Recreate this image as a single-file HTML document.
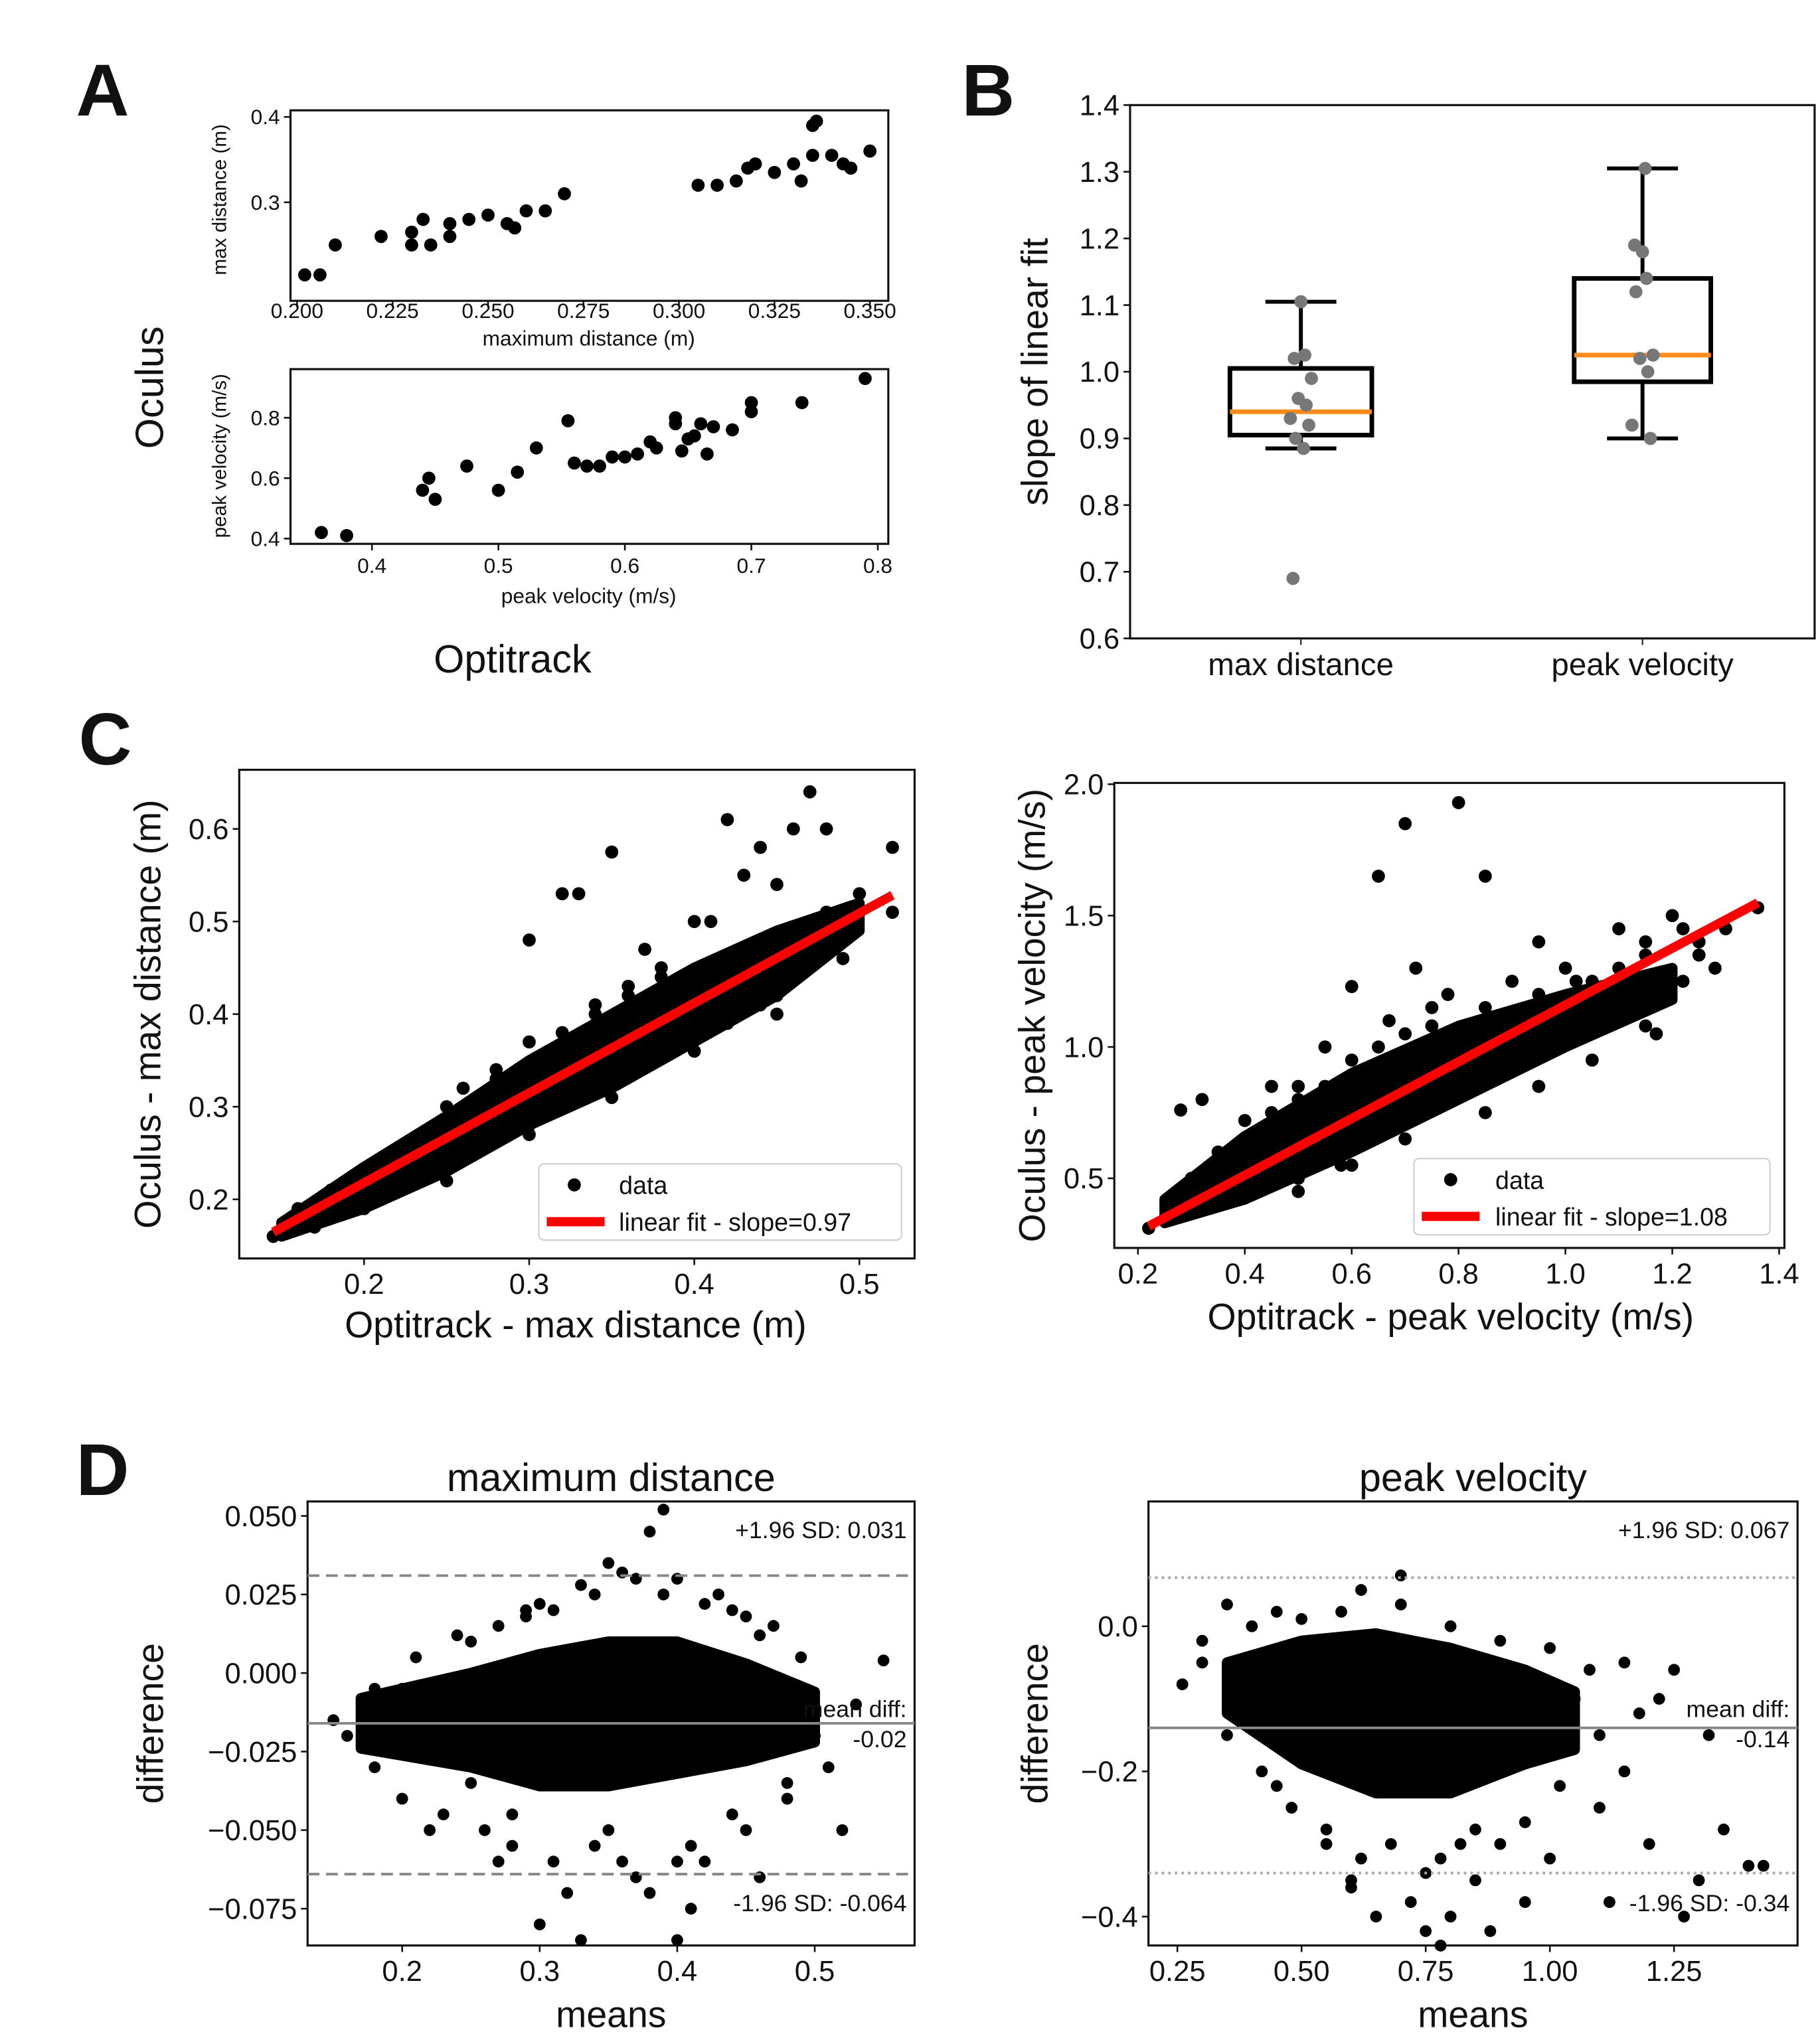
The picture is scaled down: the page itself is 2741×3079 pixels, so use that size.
<!DOCTYPE html>
<html><head><meta charset="utf-8"><style>
html,body{margin:0;padding:0;background:#fff}
svg{display:block}
text{font-family:"Liberation Sans","DejaVu Sans",sans-serif;fill:#111}
</style></head><body>
<svg id="fig" xmlns="http://www.w3.org/2000/svg" width="2741" height="3079" viewBox="0 0 1385 1556">
<rect width="1385" height="1556" fill="#fff"/>
</svg>
<script>
// ---- Panel A data ----
const aTopX=[0.202,0.206,0.21,0.222,0.23,0.23,0.233,0.235,0.24,0.24,0.245,0.25,0.255,0.257,0.26,0.265,0.27,0.305,0.31,0.315,0.318,0.32,0.325,0.33,0.332,0.335,0.335,0.336,0.34,0.343,0.35,0.345];
const aTopY=[0.215,0.215,0.25,0.26,0.265,0.25,0.28,0.25,0.275,0.26,0.28,0.285,0.275,0.27,0.29,0.29,0.31,0.32,0.32,0.325,0.34,0.345,0.335,0.345,0.325,0.355,0.39,0.395,0.355,0.345,0.36,0.34];
const aBotX=[0.36,0.38,0.44,0.445,0.45,0.475,0.5,0.515,0.53,0.555,0.56,0.57,0.58,0.59,0.6,0.61,0.625,0.64,0.64,0.645,0.65,0.655,0.66,0.665,0.685,0.7,0.7,0.74,0.79,0.62,0.67];
const aBotY=[0.42,0.41,0.56,0.6,0.53,0.64,0.56,0.62,0.7,0.79,0.65,0.64,0.64,0.67,0.67,0.68,0.7,0.8,0.78,0.69,0.73,0.74,0.78,0.68,0.76,0.85,0.82,0.85,0.93,0.72,0.77];
// ---- Panel B data ----
const bCats=["max distance","peak velocity"];
const bQ1=[0.905,0.985], bQ3=[1.005,1.14], bMed=[0.94,1.025], bLo=[0.885,0.9], bHi=[1.105,1.305];
const bPts1=[0.69,0.885,0.9,0.92,0.93,0.95,0.96,0.99,1.02,1.025,1.105];
const bPts2=[0.9,0.92,1.0,1.02,1.025,1.12,1.14,1.18,1.19,1.305];
const bTicks=[0.6,0.7,0.8,0.9,1.0,1.1,1.2,1.3,1.4];
// ---- Panel C left data ----
const c1EnvX=[0.15,0.2,0.25,0.3,0.35,0.4,0.45,0.5];
const c1EnvHi=[0.175,0.235,0.29,0.35,0.4,0.45,0.49,0.52];
const c1EnvLo=[0.16,0.19,0.23,0.28,0.32,0.37,0.42,0.49];
const c1X=[0.145,0.16,0.17,0.18,0.19,0.25,0.26,0.28,0.3,0.32,0.33,0.34,0.36,0.38,0.4,0.41,0.42,0.43,0.44,0.45,0.46,0.47,0.48,0.5,0.52,0.52,0.35,0.37,0.4,0.43,0.3,0.25,0.2,0.39,0.45,0.47,
 0.16,0.18,0.22,0.24,0.26,0.28,0.3,0.32,0.34,0.36,0.38,0.4,0.42,0.44,0.46,0.48,0.49,0.3,0.35,0.25,0.45,0.2];
const c1Y=[0.16,0.18,0.17,0.21,0.22,0.3,0.3,0.33,0.48,0.53,0.53,0.4,0.43,0.45,0.5,0.5,0.61,0.55,0.58,0.54,0.6,0.64,0.6,0.53,0.58,0.51,0.575,0.47,0.42,0.46,0.28,0.26,0.19,0.37,0.42,0.47,
 0.19,0.2,0.25,0.27,0.32,0.34,0.37,0.38,0.41,0.42,0.44,0.36,0.39,0.41,0.49,0.51,0.46,0.27,0.31,0.22,0.4,0.2];
const c1Slope=0.97, c1Int=0.024;
const c1XT=[0.2,0.3,0.4,0.5], c1YT=[0.2,0.3,0.4,0.5,0.6];
// ---- Panel C right data ----
const c2EnvX=[0.25,0.4,0.6,0.8,1.0,1.2];
const c2EnvHi=[0.42,0.66,0.9,1.08,1.2,1.3];
const c2EnvLo=[0.33,0.42,0.6,0.8,1.0,1.18];
const c2X=[0.22,0.28,0.32,0.4,0.45,0.5,0.55,0.6,0.65,0.7,0.72,0.75,0.8,0.85,0.9,0.95,1.0,1.05,1.1,1.15,1.2,1.22,1.25,1.3,1.36,0.67,0.78,0.82,0.92,1.02,1.17,0.5,0.58,
 0.3,0.35,0.4,0.45,0.5,0.55,0.6,0.65,0.7,0.75,0.85,0.9,0.95,1.05,1.1,1.15,1.25,1.28,1.22,0.5,0.6,0.7,0.85,0.95,1.05,1.15];
const c2Y=[0.31,0.76,0.8,0.6,0.85,0.85,1.0,1.23,1.65,1.85,1.3,1.15,1.93,1.65,1.25,1.4,1.3,1.1,1.45,1.4,1.5,1.45,1.35,1.45,1.53,1.1,1.2,1.0,0.95,1.25,1.05,0.45,0.55,
 0.5,0.6,0.72,0.75,0.8,0.85,0.95,1.0,1.05,1.08,1.15,1.1,1.2,1.25,1.3,1.35,1.4,1.3,1.25,0.5,0.55,0.65,0.75,0.85,0.95,1.08];
const c2Slope=1.08, c2Int=0.08;
const c2XT=[0.2,0.4,0.6,0.8,1.0,1.2,1.4], c2YT=[0.5,1.0,1.5,2.0];
// ---- Panel D left data ----
const d1EnvX=[0.17,0.25,0.3,0.35,0.4,0.45,0.5];
const d1EnvHi=[-0.008,0.0,0.006,0.01,0.01,0.003,-0.006];
const d1EnvLo=[-0.024,-0.03,-0.036,-0.036,-0.032,-0.028,-0.022];
const d1X=[0.15,0.18,0.2,0.22,0.25,0.27,0.3,0.32,0.33,0.35,0.37,0.38,0.39,0.4,0.4,0.41,0.43,0.44,0.45,0.47,0.48,0.5,0.52,0.55,0.36,0.31,0.28,0.42,0.46,0.34,0.38,0.29,
 0.16,0.18,0.2,0.21,0.23,0.24,0.26,0.27,0.28,0.29,0.31,0.33,0.34,0.36,0.37,0.39,0.41,0.42,0.44,0.46,0.48,0.49,0.51,0.53,0.3,0.35,0.4,0.45,0.25,0.22];
const d1Y=[-0.015,-0.03,-0.005,-0.05,0.01,-0.06,-0.08,-0.07,-0.085,0.035,0.03,0.045,0.052,0.03,-0.085,-0.075,0.025,0.02,-0.05,0.015,-0.04,-0.02,-0.05,0.004,-0.06,0.02,-0.045,-0.06,-0.065,0.025,-0.07,0.018,
 -0.02,-0.005,-0.04,0.005,-0.045,0.012,-0.05,0.015,-0.055,0.02,-0.06,0.028,-0.055,0.032,-0.065,0.025,-0.055,0.022,-0.045,0.012,-0.035,0.005,-0.03,-0.01,0.022,-0.05,-0.06,0.018,-0.035,-0.01];
const d1Mean=-0.016, d1Hi=0.031, d1Lo=-0.064;
const d1XT=[0.2,0.3,0.4,0.5], d1YT=[0.05,0.025,0.0,-0.025,-0.05,-0.075], d1YL=["0.050","0.025","0.000","\u22120.025","\u22120.050","\u22120.075"];
// ---- Panel D right data ----
const d2EnvX=[0.35,0.5,0.65,0.8,0.95,1.05];
const d2EnvHi=[-0.05,-0.02,-0.01,-0.03,-0.06,-0.09];
const d2EnvLo=[-0.12,-0.19,-0.23,-0.23,-0.19,-0.17];
const d2X=[0.26,0.3,0.35,0.45,0.55,0.6,0.65,0.7,0.72,0.75,0.78,0.8,0.85,0.9,0.95,1.0,1.05,1.1,1.15,1.2,1.22,1.25,1.3,1.32,1.35,1.4,1.43,0.62,0.82,0.88,1.12,1.27,
 0.3,0.35,0.4,0.42,0.48,0.5,0.55,0.58,0.62,0.68,0.7,0.78,0.8,0.85,0.9,0.95,1.0,1.02,1.08,1.1,1.15,1.18,0.45,0.6,0.75];
const d2Y=[-0.08,-0.02,0.03,0.02,-0.3,-0.35,-0.4,0.07,-0.38,-0.42,-0.44,-0.4,-0.35,-0.3,-0.38,-0.32,-0.1,-0.25,-0.05,-0.3,-0.1,-0.06,-0.35,-0.15,-0.28,-0.33,-0.33,0.05,-0.3,-0.42,-0.38,-0.4,
 -0.05,-0.15,0.0,-0.2,-0.25,0.01,-0.28,0.02,-0.32,-0.3,0.03,-0.32,0.0,-0.28,-0.02,-0.27,-0.03,-0.22,-0.06,-0.15,-0.2,-0.12,-0.22,-0.36,-0.34];
const d2Mean=-0.14, d2Hi=0.067, d2Lo=-0.34;
const d2XT=[0.25,0.5,0.75,1.0,1.25], d2XL=["0.25","0.50","0.75","1.00","1.25"], d2YT=[0.0,-0.2,-0.4], d2YL=["0.0","\u22120.2","\u22120.4"];

const svg=document.getElementById('fig');
const NS='http://www.w3.org/2000/svg';
function mk(tag,attrs,name,parent){
  const e=document.createElementNS(NS,tag);
  for(const k in attrs)e.setAttribute(k,attrs[k]);
  
  
  (parent||svg).appendChild(e);return e;
}
function txt(x,y,s,size,name,opt){
  opt=opt||{};
  const a={x:x,y:y,'font-size':size,'text-anchor':opt.anchor||'middle'};
  if(opt.weight)a['font-weight']=opt.weight;
  if(opt.rot)a.transform='rotate(-90 '+x+' '+y+')';
  const t=mk('text',a,name);t.textContent=s;return t;
}
function lin(d0,d1,p0,p1){return v=>p0+(v-d0)/(d1-d0)*(p1-p0);}
function frame(x0,y0,x1,y1,name){mk('rect',{x:x0,y:y0,width:x1-x0,height:y1-y0,fill:'none',stroke:'#111','stroke-width':1.6},name);}
function xticks(ticks,labels,sx,yb,size,name,off){
  const o=(off===undefined)?(6+size*0.9):off;
  ticks.forEach((t,i)=>{mk('line',{x1:sx(t),x2:sx(t),y1:yb,y2:yb+5,stroke:'#111','stroke-width':1.3},name+'-tick');
    txt(sx(t),yb+o,labels[i],size,name+'-label');});
}
function yticks(ticks,labels,sy,xl,size,name){
  ticks.forEach((t,i)=>{mk('line',{x1:xl-5,x2:xl,y1:sy(t),y2:sy(t),stroke:'#111','stroke-width':1.3},name+'-tick');
    txt(xl-8,sy(t)+size*0.35,labels[i],size,name+'-label',{anchor:'end'});});
}
function dots(xs,ys,sx,sy,r,fill,name){xs.forEach((x,i)=>mk('circle',{cx:sx(x),cy:sy(ys[i]),r:r,fill:fill},name));}
function env(ex,hi,lo,sx,sy,name){
  let p=ex.map((x,i)=>sx(x)+','+sy(hi[i]));
  for(let i=ex.length-1;i>=0;i--)p.push(sx(ex[i])+','+sy(lo[i]));
  mk('polygon',{points:p.join(' '),fill:'#000',stroke:'#000','stroke-width':8,'stroke-linejoin':'round'},name);
}
const fmt=(v,d)=>v.toFixed(d);

// Letters
txt(78,88,'A',56,'panel-label-a',{weight:'bold'});
txt(752,88,'B',56,'panel-label-b',{weight:'bold'});
txt(80,582,'C',56,'panel-label-c',{weight:'bold'});
txt(78,1138,'D',56,'panel-label-d',{weight:'bold'});

// Panel A top
{const sx=lin(0.2,0.35,226,662), sy=lin(0.3,0.4,154,89);
 frame(221,84,676,229,'a-top-frame');
 xticks([0.2,0.225,0.25,0.275,0.3,0.325,0.35],["0.200","0.225","0.250","0.275","0.300","0.325","0.350"],sx,229,16,'a-top-x',13);
 yticks([0.3,0.4],["0.3","0.4"],sy,221,16,'a-top-y');
 dots(aTopX,aTopY,sx,sy,5,'#000','a-top-point');
 txt(448,263,'maximum distance (m)',16,'a-top-x-title');
 txt(172,152,'max distance (m)',15,'a-top-y-title',{rot:true});}
// Panel A bottom
{const sx=lin(0.4,0.8,283,668), sy=lin(0.4,0.8,410,318);
 frame(221,281,676,414,'a-bot-frame');
 xticks([0.4,0.5,0.6,0.7,0.8],["0.4","0.5","0.6","0.7","0.8"],sx,414,16,'a-bot-x',22);
 yticks([0.4,0.6,0.8],["0.4","0.6","0.8"],sy,221,16,'a-bot-y');
 dots(aBotX,aBotY,sx,sy,5,'#000','a-bot-point');
 txt(448,459,'peak velocity (m/s)',16,'a-bot-x-title');
 txt(172,347,'peak velocity (m/s)',15,'a-bot-y-title',{rot:true});}
txt(124,295,'Oculus',30,'a-y-title',{rot:true});
txt(390,512,'Optitrack',30,'a-x-title');

// Panel B
{const sy=lin(0.6,1.4,486,80), cx=[990,1250], hw=[54,52];
 frame(860,80,1381,486,'b-frame');
 yticks(bTicks,bTicks.map(v=>fmt(v,1)),sy,860,22,'b-y');
 bCats.forEach((c,i)=>{mk('line',{x1:cx[i],x2:cx[i],y1:486,y2:491,stroke:'#111'},'b-x-tick');
   txt(cx[i],514,c,24,'b-x-label');
   mk('line',{x1:cx[i],x2:cx[i],y1:sy(bLo[i]),y2:sy(bQ1[i]),stroke:'#000','stroke-width':3},'b-whisker-low');
   mk('line',{x1:cx[i],x2:cx[i],y1:sy(bHi[i]),y2:sy(bQ3[i]),stroke:'#000','stroke-width':3},'b-whisker-high');
   mk('line',{x1:cx[i]-27,x2:cx[i]+27,y1:sy(bLo[i]),y2:sy(bLo[i]),stroke:'#000','stroke-width':3},'b-cap-low');
   mk('line',{x1:cx[i]-27,x2:cx[i]+27,y1:sy(bHi[i]),y2:sy(bHi[i]),stroke:'#000','stroke-width':3},'b-cap-high');
   mk('rect',{x:cx[i]-hw[i],y:sy(bQ3[i]),width:2*hw[i],height:sy(bQ1[i])-sy(bQ3[i]),fill:'none',stroke:'#000','stroke-width':3.5},'b-box');
   mk('line',{x1:cx[i]-hw[i],x2:cx[i]+hw[i],y1:sy(bMed[i]),y2:sy(bMed[i]),stroke:'#ff8c1a','stroke-width':3.5},'b-median');
 });
 const j=[-6,2,-4,6,-8,4,-2,8,-5,3,0];
 bPts1.forEach((v,i)=>mk('circle',{cx:990+j[i%j.length],cy:sy(v),r:5,fill:'#777'},'b-point-maxdist'));
 bPts2.forEach((v,i)=>mk('circle',{cx:1250+j[(i+3)%j.length],cy:sy(v),r:5,fill:'#777'},'b-point-peakvel'));
 txt(797,283,'slope of linear fit',28,'b-y-title',{rot:true});}

// Panel C left
{const sx=lin(0.2,0.5,277,654), sy=lin(0.2,0.6,913,631);
 frame(182,586,696,958,'c1-frame');
 env(c1EnvX,c1EnvHi,c1EnvLo,sx,sy,'c1-data-cloud');
 dots(c1X,c1Y,sx,sy,5,'#000','c1-point');
 mk('line',{x1:sx(0.145),y1:sy(c1Int+c1Slope*0.145),x2:sx(0.52),y2:sy(c1Int+c1Slope*0.52),stroke:'#f00','stroke-width':7},'c1-fit-line');
 xticks(c1XT,c1XT.map(v=>fmt(v,1)),sx,958,22,'c1-x',27);
 yticks(c1YT,c1YT.map(v=>fmt(v,1)),sy,182,22,'c1-y');
 mk('rect',{x:410,y:886,width:276,height:58,rx:4,fill:'#fff',stroke:'#ccc'},'c1-legend');
 mk('circle',{cx:437,cy:902,r:5,fill:'#000'},'c1-legend-data-marker');
 txt(471,909,'data',19,'c1-legend-data',{anchor:'start'});
 mk('line',{x1:416,x2:460,y1:930,y2:930,stroke:'#f00','stroke-width':7},'c1-legend-fit-marker');
 txt(471,937,'linear fit - slope=0.97',19,'c1-legend-fit',{anchor:'start'});
 txt(438,1018,'Optitrack - max distance (m)',28,'c1-x-title');
 txt(122,772,'Oculus - max distance (m)',28,'c1-y-title',{rot:true});}

// Panel C right
{const sx=lin(0.2,1.4,866,1354), sy=lin(0.5,2.0,897,597);
 frame(848,596,1358,950,'c2-frame');
 env(c2EnvX,c2EnvHi,c2EnvLo,sx,sy,'c2-data-cloud');
 dots(c2X,c2Y,sx,sy,5,'#000','c2-point');
 mk('line',{x1:sx(0.22),y1:sy(c2Int+c2Slope*0.22),x2:sx(1.36),y2:sy(c2Int+c2Slope*1.36),stroke:'#f00','stroke-width':7},'c2-fit-line');
 xticks(c2XT,c2XT.map(v=>fmt(v,1)),sx,950,22,'c2-x',27);
 yticks(c2YT,c2YT.map(v=>fmt(v,1)),sy,848,22,'c2-y');
 mk('rect',{x:1076,y:882,width:271,height:58,rx:4,fill:'#fff',stroke:'#ccc'},'c2-legend');
 mk('circle',{cx:1104,cy:898,r:5,fill:'#000'},'c2-legend-data-marker');
 txt(1138,905,'data',19,'c2-legend-data',{anchor:'start'});
 mk('line',{x1:1082,x2:1126,y1:926,y2:926,stroke:'#f00','stroke-width':7},'c2-legend-fit-marker');
 txt(1138,933,'linear fit - slope=1.08',19,'c2-legend-fit',{anchor:'start'});
 txt(1104,1012,'Optitrack - peak velocity (m/s)',28,'c2-x-title');
 txt(795,773,'Oculus - peak velocity (m/s)',28,'c2-y-title',{rot:true});}

// Panel D left
{const sx=lin(0.2,0.5,306,620), sy=lin(0.05,-0.075,1154,1453);
 frame(234,1143,696,1481,'d1-frame');
 env(d1EnvX,d1EnvHi,d1EnvLo,sx,sy,'d1-data-cloud');
 dots(d1X,d1Y,sx,sy,4.5,'#000','d1-point');
 mk('line',{x1:234,x2:696,y1:sy(d1Mean),y2:sy(d1Mean),stroke:'#888','stroke-width':2},'d1-mean-line');
 mk('line',{x1:234,x2:696,y1:sy(d1Hi),y2:sy(d1Hi),stroke:'#888','stroke-width':2,'stroke-dasharray':'9,5'},'d1-upper-loa');
 mk('line',{x1:234,x2:696,y1:sy(d1Lo),y2:sy(d1Lo),stroke:'#888','stroke-width':2,'stroke-dasharray':'9,5'},'d1-lower-loa');
 txt(690,1171,'+1.96 SD: 0.031',18,'d1-upper-label',{anchor:'end'});
 txt(690,1307,'mean diff:',18,'d1-mean-label',{anchor:'end'});
 txt(690,1330,'-0.02',18,'d1-mean-value',{anchor:'end'});
 txt(690,1455,'-1.96 SD: -0.064',18,'d1-lower-label',{anchor:'end'});
 xticks(d1XT,d1XT.map(v=>fmt(v,1)),sx,1481,22,'d1-x',27);
 yticks(d1YT,d1YL,sy,234,22,'d1-y');
 txt(465,1135,'maximum distance',30,'d1-title');
 txt(465,1543,'means',28,'d1-x-title');
 txt(124,1312,'difference',28,'d1-y-title',{rot:true});}

// Panel D right
{const sx=lin(0.25,1.25,896,1274), sy=lin(0.0,-0.4,1238,1459);
 frame(874,1143,1368,1481,'d2-frame');
 env(d2EnvX,d2EnvHi,d2EnvLo,sx,sy,'d2-data-cloud');
 dots(d2X,d2Y,sx,sy,4.5,'#000','d2-point');
 mk('line',{x1:874,x2:1368,y1:sy(d2Mean),y2:sy(d2Mean),stroke:'#888','stroke-width':2},'d2-mean-line');
 mk('line',{x1:874,x2:1368,y1:sy(d2Hi),y2:sy(d2Hi),stroke:'#aaa','stroke-width':2,'stroke-dasharray':'2,3'},'d2-upper-loa');
 mk('line',{x1:874,x2:1368,y1:sy(d2Lo),y2:sy(d2Lo),stroke:'#aaa','stroke-width':2,'stroke-dasharray':'2,3'},'d2-lower-loa');
 txt(1362,1171,'+1.96 SD: 0.067',18,'d2-upper-label',{anchor:'end'});
 txt(1362,1307,'mean diff:',18,'d2-mean-label',{anchor:'end'});
 txt(1362,1330,'-0.14',18,'d2-mean-value',{anchor:'end'});
 txt(1362,1455,'-1.96 SD: -0.34',18,'d2-lower-label',{anchor:'end'});
 xticks(d2XT,d2XL,sx,1481,22,'d2-x',27);
 yticks(d2YT,d2YL,sy,874,22,'d2-y');
 txt(1121,1135,'peak velocity',30,'d2-title');
 txt(1121,1543,'means',28,'d2-x-title');
 txt(797,1312,'difference',28,'d2-y-title',{rot:true});}
</script>
</body></html>
